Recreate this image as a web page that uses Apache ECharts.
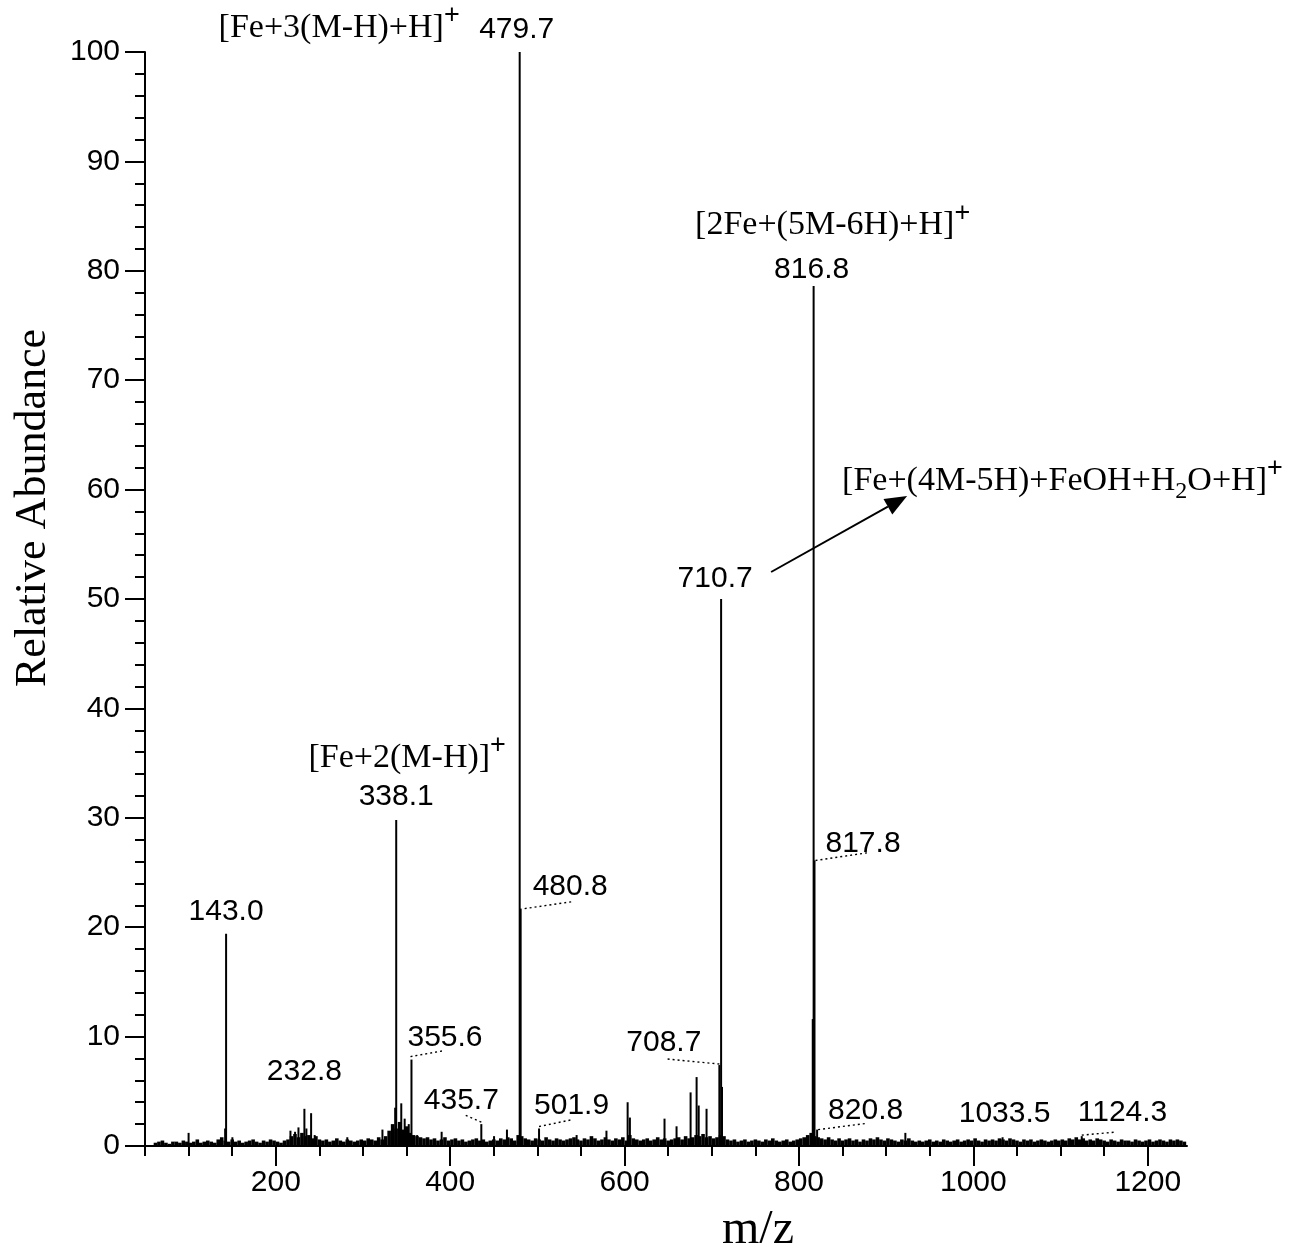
<!DOCTYPE html>
<html>
<head>
<meta charset="utf-8">
<title>ESI mass spectrum</title>
<script src="https://cdn.jsdelivr.net/npm/echarts@6/dist/echarts.min.js"></script>
<style>
  html, body { margin: 0; padding: 0; background: #fff; }
  #chart { width: 1292px; height: 1254px; }
</style>
</head>
<body>
<div id="chart"></div>
<script>
// ---------------------------------------------------------------
// Spectrum data (m/z, relative abundance %)
// ---------------------------------------------------------------
const peakMz = [100.0, 141.9, 143.0, 150.2, 216.8, 222.1, 226.0, 232.8, 235.1, 240.5,
  244.6, 282.0, 322.3, 336.9, 338.1, 343.9, 347.8, 352.5, 355.6, 362.1,
  390.2, 435.7, 450.3, 465.1, 479.7, 480.8, 501.9, 545.0, 579.2, 603.5,
  606.1, 645.8, 659.6, 675.7, 682.6, 685.0, 694.0, 708.7, 710.7, 711.7,
  815.8, 816.8, 817.8, 820.8, 922.0, 1033.5, 1124.3];
const peakAbund = [1.2, 1.6, 19.4, 0.8, 1.4, 1.3, 1.7, 3.4, 1.6, 3.0,
  1.0, 0.8, 1.5, 3.5, 29.8, 3.9, 2.5, 2.0, 7.9, 1.0,
  1.3, 2.0, 0.9, 1.5, 100, 21.7, 1.6, 1.0, 1.4, 4.0,
  2.6, 2.5, 1.8, 4.9, 6.3, 3.7, 3.4, 7.4, 50.0, 5.4,
  11.6, 78.6, 26.1, 1.5, 1.2, 0.8, 0.9];

// baseline chemical noise, sampled every 4 m/z starting at m/z 62
const noiseStartMz = 62;
const noiseStepMz = 4;
const noiseAbund = [
  0.3,0.4,0.5,0.3,0.2,0.4,0.4,0.3,0.5,0.4,0.3,0.4,0.6,0.3,0.4,0.5,0.4,0.3,0.6,0.8,
  0.5,0.4,0.6,0.4,0.5,0.3,0.4,0.5,0.6,0.4,0.3,0.5,0.4,0.6,0.5,0.4,0.3,0.5,0.6,0.9,
  1.1,0.8,1.2,0.9,1.0,0.7,0.9,0.6,0.5,0.6,0.4,0.5,0.7,0.5,0.4,0.6,0.5,0.4,0.5,0.6,
  0.5,0.7,0.6,0.5,0.8,0.6,0.9,1.4,2.0,1.6,2.2,1.5,1.8,1.2,1.0,0.9,0.8,0.7,0.8,0.6,
  0.7,0.5,0.6,0.8,0.5,0.6,0.7,0.5,0.6,0.4,0.5,0.6,0.7,0.5,0.6,0.4,0.5,0.6,0.5,0.7,
  0.6,0.8,0.7,0.5,1.0,0.9,0.7,0.6,0.5,0.7,0.6,0.5,0.8,0.6,0.5,0.7,0.6,0.5,0.6,0.7,
  0.8,0.6,0.5,0.7,0.6,0.9,0.7,0.5,0.6,0.8,0.6,0.5,0.7,0.6,0.8,0.5,1.0,0.7,0.6,0.5,
  0.6,0.7,0.5,0.6,0.8,0.6,0.7,0.5,0.6,0.7,0.8,0.6,0.9,0.7,0.8,1.0,0.9,1.1,0.8,0.9,
  0.7,0.8,1.0,0.9,0.6,0.5,0.6,0.4,0.5,0.6,0.4,0.5,0.6,0.5,0.4,0.6,0.5,0.7,0.5,0.4,
  0.5,0.6,0.4,0.5,0.6,0.7,0.8,1.0,1.2,0.9,0.8,0.7,0.6,0.8,0.6,0.5,0.7,0.5,0.6,0.7,
  0.5,0.6,0.4,0.6,0.5,0.7,0.6,0.8,0.6,0.5,0.7,0.6,0.5,0.4,0.6,0.5,0.7,0.5,0.4,0.5,
  0.4,0.5,0.6,0.4,0.5,0.4,0.6,0.5,0.4,0.5,0.6,0.4,0.5,0.6,0.5,0.7,0.5,0.4,0.6,0.5,
  0.6,0.5,0.7,0.6,0.5,0.7,0.6,0.5,0.4,0.6,0.5,0.6,0.4,0.5,0.6,0.5,0.4,0.5,0.6,0.5,
  0.6,0.5,0.7,0.6,0.8,0.6,0.7,0.5,0.6,0.5,0.7,0.6,0.5,0.4,0.6,0.5,0.4,0.6,0.5,0.5,
  0.4,0.6,0.5,0.4,0.5,0.6,0.4,0.5,0.6,0.5,0.4,0.6,0.5,0.6,0.5,0.4
];

// peaks annotated with their m/z
const labelledMz = [143.0, 232.8, 338.1, 355.6, 435.7, 479.7, 480.8, 501.9,
  708.7, 710.7, 816.8, 817.8, 820.8, 1033.5, 1124.3];

// ion assignments ("^" = superscript next char, "_" = subscript next char)
const formulaMz = [338.1, 479.7, 816.8, 710.7];
const formulaText = ['[Fe+2(M-H)]^+', '[Fe+3(M-H)+H]^+', '[2Fe+(5M-6H)+H]^+',
  '[Fe+(4M-5H)+FeOH+H_2O+H]^+'];

// axis ticks
const xTickValues = [50, 100, 150, 200, 250, 300, 350, 400, 450, 500, 550, 600,
  650, 700, 750, 800, 850, 900, 950, 1000, 1050, 1100, 1150, 1200];
const xLabelValues = [200, 400, 600, 800, 1000, 1200];
const yLabelValues = [0, 10, 20, 30, 40, 50, 60, 70, 80, 90, 100];

// ---------------------------------------------------------------
// Styling / placement of annotations (pixel offsets from the peak top)
// ---------------------------------------------------------------
const SANS = '"Liberation Sans", Arial, Helvetica, sans-serif';
const SERIF = '"Liberation Serif", "Times New Roman", serif';

const labelPlacement = {
  '143.0':  { align: 'center', dx: 0,   dy: -22 },
  '232.8':  { align: 'center', dx: 0,   dy: -37 },
  '338.1':  { align: 'center', dx: 0,   dy: -23 },
  '355.6':  { align: 'left',   dx: -4,  dy: -22, leader: [-1, -3, 33, -9] },
  '435.7':  { align: 'center', dx: -20, dy: -23, leader: [0, -2, -16, -9] },
  '479.7':  { align: 'center', dx: -3,  dy: -22 },
  '480.8':  { align: 'left',   dx: 12,  dy: -22, leader: [4, 0, 52, -7] },
  '501.9':  { align: 'left',   dx: -5,  dy: -23, leader: [0, -2, 34, -9] },
  '708.7':  { align: 'right',  dx: -18, dy: -22, leader: [0, -1, -52, -6] },
  '710.7':  { align: 'center', dx: -6,  dy: -20 },
  '816.8':  { align: 'center', dx: -2,  dy: -16 },
  '817.8':  { align: 'left',   dx: 11,  dy: -17, leader: [1, 0, 55, -8] },
  '820.8':  { align: 'left',   dx: 11,  dy: -19, leader: [1, 0, 48, -6] },
  '1033.5': { align: 'center', dx: 2,   dy: -24 },
  '1124.3': { align: 'left',   dx: -4,  dy: -23, leader: [0, -1, 33, -4] }
};

const formulaPlacement = {
  '338.1': { align: 'center', dx: 11,  dy: -62 },
  '479.7': { align: 'right',  dx: -60, dy: -24 },
  '816.8': { align: 'center', dx: 19,  dy: -61 },
  '710.7': { align: 'left',   dx: 121, dy: -118, arrow: [50, -27, 186, -103] }
};

function abundanceOf(mz) {
  const i = peakMz.indexOf(mz);
  return i >= 0 ? peakAbund[i] : 0;
}

// text measuring for the sub/superscript layout
const measureCtx = document.createElement('canvas').getContext('2d');
function textWidth(text, size, family) {
  measureCtx.font = size + 'px ' + family;
  return measureCtx.measureText(text).width;
}

const segStyle = {
  normal: { size: 34, family: SERIF, shift: 0 },
  sup:    { size: 27, family: SANS,  shift: -12 },
  sub:    { size: 24, family: SERIF, shift: 11 }
};

function parseFormula(markup) {
  const segs = [];
  let buf = '';
  for (let i = 0; i < markup.length; i++) {
    const c = markup[i];
    if ((c === '^' || c === '_') && i + 1 < markup.length) {
      if (buf) { segs.push({ kind: 'normal', text: buf }); buf = ''; }
      segs.push({ kind: c === '^' ? 'sup' : 'sub', text: markup[i + 1] });
      i++;
    } else {
      buf += c;
    }
  }
  if (buf) segs.push({ kind: 'normal', text: buf });
  return segs;
}

function formulaElements(markup, x, cy, align) {
  const segs = parseFormula(markup);
  segs.forEach(s => {
    const st = segStyle[s.kind];
    s.w = textWidth(s.text, st.size, st.family);
  });
  const total = segs.reduce((a, s) => a + s.w, 0);
  let cx = align === 'left' ? x : align === 'right' ? x - total : x - total / 2;
  return segs.map(s => {
    const st = segStyle[s.kind];
    const el = {
      type: 'text', x: cx, y: cy + st.shift, silent: true,
      style: { text: s.text, fontSize: st.size, fontFamily: st.family, fill: '#000',
        align: 'left', verticalAlign: 'middle' }
    };
    cx += s.w;
    return el;
  });
}

// ---------------------------------------------------------------
// Renderers
// ---------------------------------------------------------------
function stickRenderer(width) {
  return function (params, api) {
    const mz = api.value(0), ab = api.value(1);
    const p0 = api.coord([mz, 0]);
    const p1 = api.coord([mz, ab]);
    return {
      type: 'line', silent: true,
      shape: { x1: p0[0], y1: p0[1], x2: p1[0], y2: p1[1] },
      style: { stroke: '#000', lineWidth: width }
    };
  };
}

function renderPeakLabel(params, api) {
  const mz = api.value(0), ab = api.value(1);
  const top = api.coord([mz, ab]);
  const pl = labelPlacement[mz.toFixed(1)];
  const children = [{
    type: 'text', x: top[0] + pl.dx, y: top[1] + pl.dy, silent: true,
    style: { text: mz.toFixed(1), fontSize: 30, fontFamily: SANS, fill: '#000',
      align: pl.align, verticalAlign: 'middle' }
  }];
  if (pl.leader) {
    const [ax, ay, bx, by] = pl.leader;
    children.push({
      type: 'line', silent: true,
      shape: { x1: top[0] + ax, y1: top[1] + ay, x2: top[0] + bx, y2: top[1] + by },
      style: { stroke: '#000', lineWidth: 1.4, lineDash: [2, 3] }
    });
  }
  return { type: 'group', children };
}

function renderFormula(params, api) {
  const mz = api.value(0), ab = api.value(1);
  const top = api.coord([mz, ab]);
  const pl = formulaPlacement[mz.toFixed(1)];
  const children = formulaElements(formulaText[params.dataIndex],
    top[0] + pl.dx, top[1] + pl.dy, pl.align);
  if (pl.arrow) {
    const x1 = top[0] + pl.arrow[0], y1 = top[1] + pl.arrow[1];
    const x2 = top[0] + pl.arrow[2], y2 = top[1] + pl.arrow[3];
    const ang = Math.atan2(y2 - y1, x2 - x1);
    const len = 22, half = 9;
    const bx = x2 - len * Math.cos(ang), by = y2 - len * Math.sin(ang);
    const nx = -Math.sin(ang) * half, ny = Math.cos(ang) * half;
    children.push({
      type: 'line', silent: true,
      shape: { x1, y1, x2: bx, y2: by },
      style: { stroke: '#000', lineWidth: 2 }
    });
    children.push({
      type: 'polygon', silent: true,
      shape: { points: [[x2, y2], [bx + nx, by + ny], [bx - nx, by - ny]] },
      style: { fill: '#000' }
    });
  }
  return { type: 'group', children };
}

// ---------------------------------------------------------------
// Chart
// ---------------------------------------------------------------
const noiseData = noiseAbund.map((v, i) => [noiseStartMz + i * noiseStepMz, v]);
const peakData = peakMz.map((mz, i) => [mz, peakAbund[i]]);
const labelData = labelledMz.map(mz => [mz, abundanceOf(mz)]);
const formulaData = formulaMz.map(mz => [mz, abundanceOf(mz)]);

const axisColor = '#000';
const chart = echarts.init(document.getElementById('chart'), null, { renderer: 'canvas' });

chart.setOption({
  backgroundColor: '#fff',
  animation: false,
  grid: { left: 145, right: 105, top: 52, bottom: 108, containLabel: false },
  xAxis: [{
    type: 'value', min: 50, max: 1245, position: 'bottom',
    splitLine: { show: false },
    axisLine: { show: true, onZero: false, lineStyle: { color: axisColor, width: 2 } },
    axisTick: { show: true, customValues: xTickValues, length: 10,
      lineStyle: { color: axisColor, width: 2 } },
    axisLabel: { customValues: xLabelValues, margin: 22, color: '#000',
      fontSize: 30, fontFamily: SANS, formatter: v => String(v) }
  }, {
    type: 'value', min: 50, max: 1245, position: 'bottom',
    splitLine: { show: false },
    axisLine: { show: false, onZero: false },
    axisTick: { show: true, customValues: xLabelValues, length: 20,
      lineStyle: { color: axisColor, width: 2 } },
    axisLabel: { show: false }
  }],
  yAxis: {
    type: 'value', min: 0, max: 100, interval: 10,
    splitLine: { show: false },
    axisLine: { show: true, lineStyle: { color: axisColor, width: 2 } },
    axisTick: { show: true, length: 20, lineStyle: { color: axisColor, width: 2 } },
    minorTick: { show: true, splitNumber: 5, length: 10,
      lineStyle: { color: axisColor, width: 2 } },
    axisLabel: { margin: 25, color: '#000', fontSize: 30, fontFamily: SANS,
      customValues: yLabelValues }
  },
  graphic: [{
    type: 'text', x: 33, y: 508, rotation: Math.PI / 2,
    style: { text: 'Relative Abundance', fontSize: 44, fontFamily: SERIF, fill: '#000',
      align: 'center', verticalAlign: 'middle' }
  }, {
    type: 'text', x: 758, y: 1230,
    style: { text: 'm/z', fontSize: 48, fontFamily: SERIF, fill: '#000',
      align: 'center', verticalAlign: 'middle' }
  }],
  series: [{
    name: 'noise', type: 'custom', coordinateSystem: 'cartesian2d',
    xAxisIndex: 0, yAxisIndex: 0, encode: { x: 0, y: 1 },
    renderItem: stickRenderer(3.6), data: noiseData, clip: true, z: 2
  }, {
    name: 'peaks', type: 'custom', coordinateSystem: 'cartesian2d',
    xAxisIndex: 0, yAxisIndex: 0, encode: { x: 0, y: 1 },
    renderItem: stickRenderer(2), data: peakData, clip: false, z: 3
  }, {
    name: 'peak labels', type: 'custom', coordinateSystem: 'cartesian2d',
    xAxisIndex: 0, yAxisIndex: 0, encode: { x: 0, y: 1 },
    renderItem: renderPeakLabel, data: labelData, clip: false, z: 4
  }, {
    name: 'ion assignments', type: 'custom', coordinateSystem: 'cartesian2d',
    xAxisIndex: 0, yAxisIndex: 0, encode: { x: 0, y: 1 },
    renderItem: renderFormula, data: formulaData, clip: false, z: 4
  }]
});
</script>
</body>
</html>
